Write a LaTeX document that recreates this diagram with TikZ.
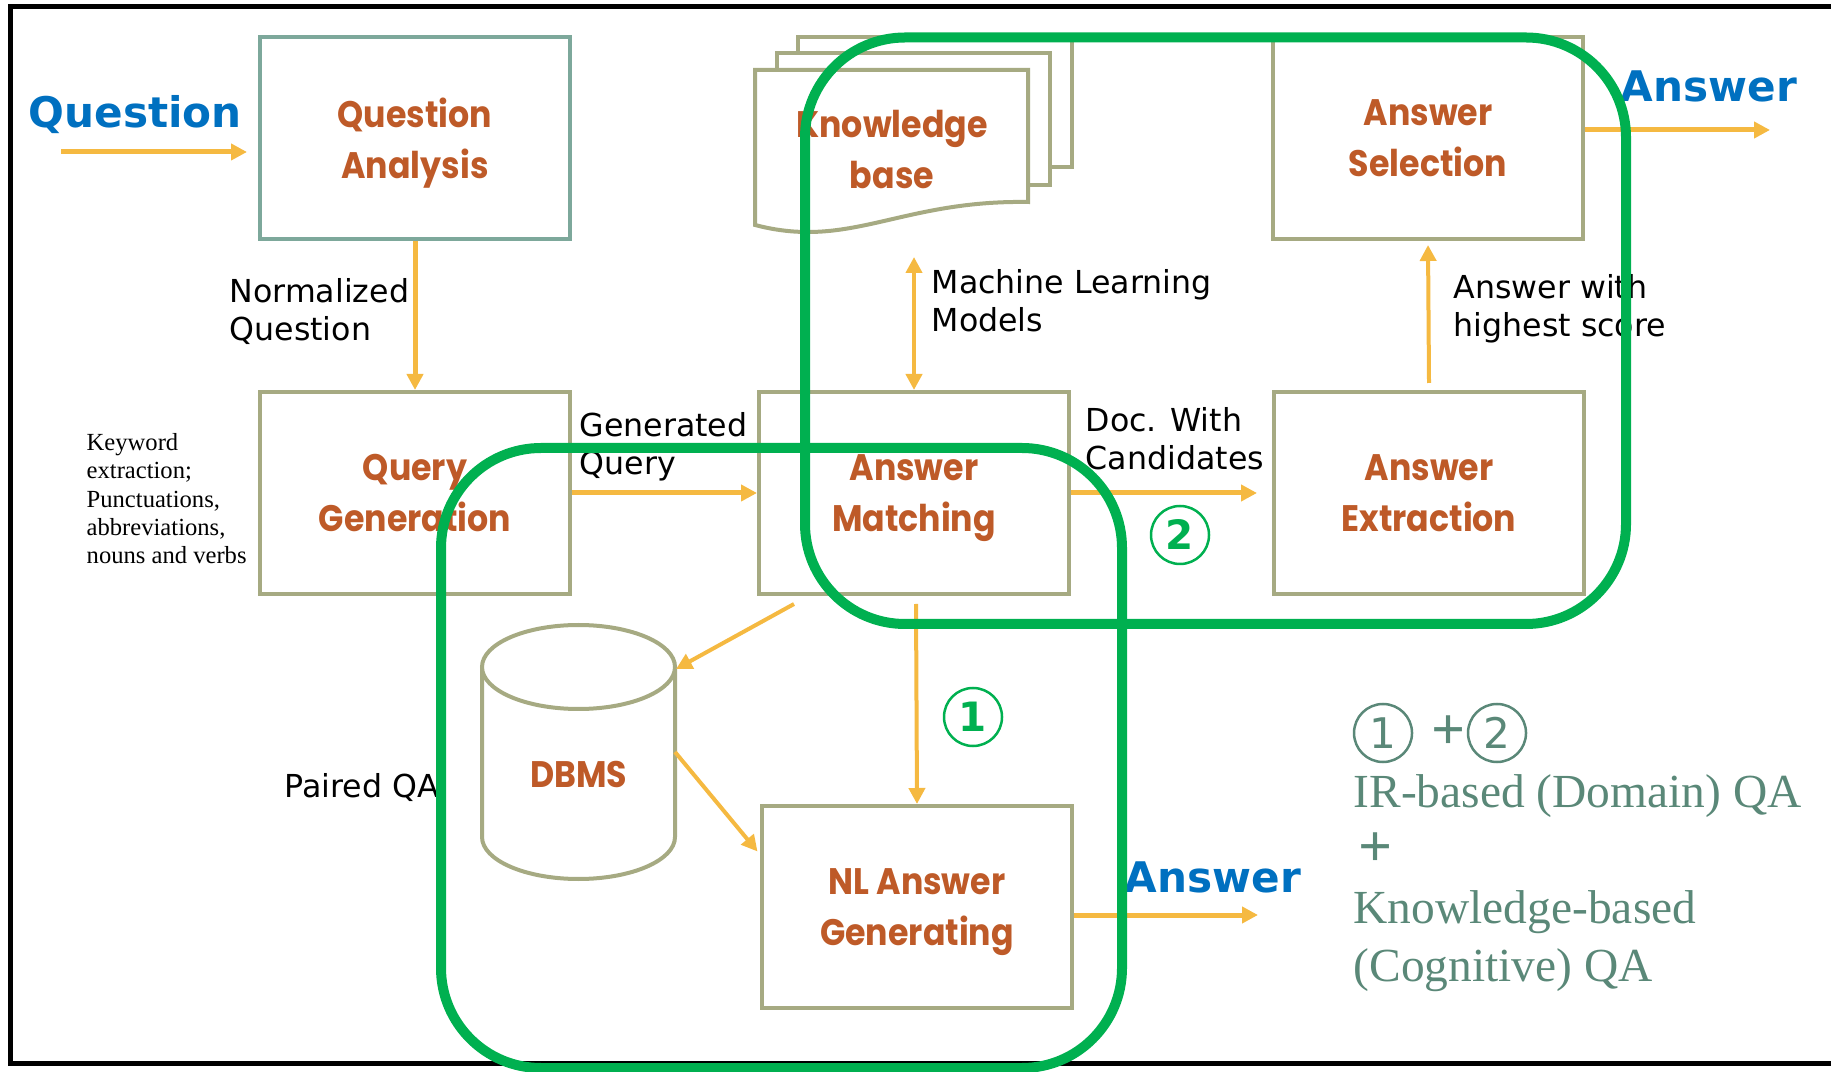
\documentclass[tikz,border=0pt]{standalone}
\usepackage{fontspec}
\setmainfont{DejaVu Sans}
\newfontfamily\boxfont{Poppins}[FakeStretch=0.9]
\newfontfamily\timesfont{Liberation Serif}
\usetikzlibrary{calc,positioning,arrows.meta}
\definecolor{brownt}{RGB}{190,90,40}
\definecolor{flowc}{RGB}{245,185,65}
\definecolor{boxline}{RGB}{166,170,130}
\definecolor{qaline}{RGB}{125,168,155}
\definecolor{grp}{RGB}{0,176,80}
\definecolor{bluet}{RGB}{0,112,192}
\definecolor{legc}{RGB}{90,136,120}
\tikzset{>={Triangle[width=1.6mm,length=1.6mm]}}
\tikzset{
  procbox/.style={draw=boxline, line width=0.04cm, minimum width=3.1cm, minimum height=2.02cm,
    align=center, text=brownt, font=\boxfont\bfseries\fontsize{10.5}{14.5}\selectfont, text depth=0pt},
  flow/.style={->, draw=flowc, line width=0.05cm},
  thinflow/.style={->, draw=flowc, line width=0.04cm},
  lbl/.style={align=left, inner sep=0pt, font=\fontsize{9}{10.8}\selectfont},
  ioword/.style={inner sep=0pt, text=bluet, font=\bfseries\fontsize{12}{14}\selectfont},
  grpline/.style={draw=grp, line width=0.1cm, rounded corners=1cm},
  stepnum/.style={circle, draw=grp, text=grp, line width=0.025cm, minimum size=0.58cm, inner sep=0pt,
    font=\bfseries\fontsize{11.5}{12}\selectfont},
  legnum/.style={stepnum, draw=legc, text=legc, font=\fontsize{12}{12}\selectfont},
  legtext/.style={inner sep=0pt, align=left, text=legc, font=\timesfont\fontsize{13.5}{16.5}\selectfont},
  legplus/.style={inner sep=0pt, text=legc, font=\timesfont\bfseries\fontsize{17}{17}\selectfont},
  docline/.style={draw=boxline, line width=0.04cm, fill=white}
}

\begin{document}
\begin{tikzpicture}
    \useasboundingbox (0,0) rectangle (18.31,-10.72);
    \draw[line width=0.05cm] (18.40,-0.07) -- (0.10,-0.07) -- (0.10,-10.63) -- (18.40,-10.63);

    \draw[docline] (7.98,-0.37) rectangle (10.72,-1.67);
    \draw[docline] (7.77,-0.53) rectangle (10.50,-1.85);
    \draw[docline] (7.55,-0.70) -- (10.28,-0.70) -- (10.28,-2.02) .. controls (9.00,-2.00) and (8.50,-2.50) .. (7.55,-2.25) -- cycle;
    \node[procbox, draw=none, minimum size=0pt] (kb) at (8.92,-1.49) {Knowledge\\base};

    \node[procbox, draw=qaline] (qa) at (4.15,-1.38) {Question\\Analysis};
    \node[procbox] (qg) at (4.15,-4.93) {Query\\Generation};
    \node[procbox] (am) at (9.14,-4.93) {Answer\\Matching};
    \node[procbox] (ae) at (14.29,-4.93) {Answer\\Extraction};
    \node[procbox] (as) at (14.28,-1.38) {Answer\\Selection};
    \node[procbox] (nl) at (9.17,-9.07) {NL Answer\\Generating};

    \draw[docline] (4.82,-6.67) -- (4.82,-8.37) arc[start angle=180, end angle=360, x radius=0.965cm, y radius=0.42cm] -- (6.75,-6.67);
    \draw[docline] (5.785,-6.67) ellipse [x radius=0.965cm, y radius=0.42cm];
    \node[procbox, draw=none, minimum size=0pt] (dbms) at (5.785,-7.74) {DBMS};
    \coordinate (dbtop) at (6.76,-6.69);
    \coordinate (dbside) at (6.75,-7.52);

    \node[ioword, anchor=base west] (qin) at (0.28,-1.28) {Question};
    \node[ioword, anchor=base west] (anstop) at (16.20,-1.02) {Answer};
    \node[ioword, anchor=base west] (ansbot) at (11.24,-8.92) {Answer};
    \coordinate (qstart) at (0.61,-1.52);
    \coordinate (astop) at (17.70,-1.30);
    \coordinate (asbot) at (12.58,-9.15);
    \coordinate (mlfoot) at (9.14,-2.57);

    \node[lbl, anchor=north west] (normq) at (2.29,-2.78) {Normalized\\Question};
    \node[lbl, anchor=north west] (genq) at (5.79,-4.12) {Generated\\Query};
    \node[lbl, anchor=north west] (docw) at (10.85,-4.07) {Doc. With\\Candidates};
    \node[lbl, anchor=north west] (mlm) at (9.31,-2.69) {Machine Learning\\Models};
    \node[lbl, anchor=north west] (awh) at (14.53,-2.74) {Answer with\\highest score};
    \node[lbl, anchor=base west] (pqa) at (2.84,-7.97) {Paired QA};
    \node[lbl, anchor=north west, font=\timesfont\fontsize{7}{8}\selectfont] (kwd) at (0.86,-4.33) {Keyword\\extraction;\\Punctuations,\\abbreviations,\\nouns and verbs};

    \draw[flow] (qstart) -- ([xshift=-0.11cm]qstart -| qa.west);
    \draw[flow] (qa.south) -- (qg.north);
    \draw[flow] (qg.east) -- (am.west);
    \draw[flow] (am.east) -- ([xshift=-0.15cm]ae.west);
    \draw[thinflow] ([yshift=0.07cm]ae.north) -- ([yshift=-0.04cm]as.south);
    \draw[flow] (as.east |- astop) -- (astop);
    \draw[thinflow, <->] (am.north) -- (mlfoot);
    \draw[thinflow] ($(am.south west)+(0.37,-0.08)$) -- (dbtop);
    \draw[thinflow] (dbside) -- ($(nl.north west)+(-0.025,-0.475)$);
    \draw[thinflow] ($(am.south)+(0.02,-0.08)$) -- (nl.north);
    \draw[flow] (nl.east |- asbot) -- (asbot);

    \draw[grpline] (8.05,-0.375) rectangle (16.26,-6.24);
    \draw[grpline] (4.41,-4.48) rectangle (11.22,-10.68);
    \node[stepnum] (one) at (9.73,-7.17) {1};
    \node[stepnum] (two) at (11.80,-5.35) {2};

    \node[legnum] (lone) at (13.83,-7.33) {1};
    \node[legplus] (lplus) at (14.48,-7.33) {+};
    \node[legnum] (ltwo) at (14.97,-7.33) {2};
    \node[legtext, anchor=base west] (irqa) at (13.53,-8.07) {IR-based (Domain) QA};
    \node[legplus] (lplus2) at (13.75,-8.50) {+};
    \node[legtext, anchor=north west] (kbqa) at (13.53,-8.90) {Knowledge-based\\(Cognitive) QA};
\end{tikzpicture}
\end{document}
